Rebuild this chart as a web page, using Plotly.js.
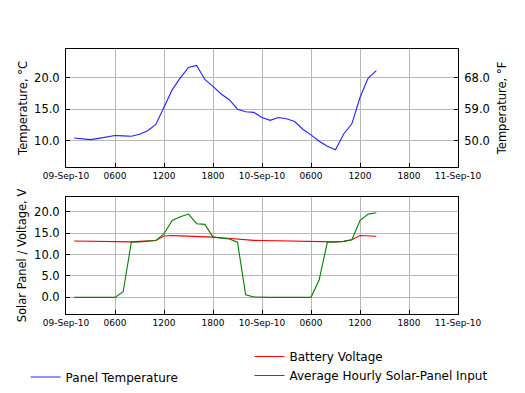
<!DOCTYPE html>
<html><head><meta charset="utf-8">
<script src="https://cdn.plot.ly/plotly-3.0.1.min.js"></script>
<style>html,body{margin:0;padding:0;background:#fff}#c{width:525px;height:393px}</style>
</head><body><div id="c"></div>
<script>
// hourly timestamps, 09-Sep-10 01:00 .. 10-Sep-10 14:00
const startHour = 1, nPoints = 38;
const times = [];
for (let i = 0; i < nPoints; i++) {
  const h = startHour + i;
  const d = new Date(Date.UTC(2010, 8, 9, h));
  times.push(d.toISOString().slice(0,19).replace('T',' '));
}
const panelTemp = [10.47,10.3,10.2,10.4,10.6,10.85,10.8,10.75,11.05,11.6,12.6,15.4,18.05,19.95,21.6,21.9,19.7,18.6,17.4,16.5,15.0,14.6,14.5,13.7,13.25,13.7,13.5,13.05,11.85,10.95,9.95,9.15,8.6,11.1,12.7,16.85,19.9,21.1];
const batteryVoltage = [13.2,13.15,13.1,13.1,13.05,13.05,13.0,13.0,13.1,13.2,13.3,14.35,14.5,14.4,14.35,14.35,14.3,14.1,13.95,13.8,13.55,13.4,13.35,13.3,13.25,13.25,13.2,13.2,13.15,13.1,13.05,13.0,13.0,13.1,13.5,14.5,14.4,14.3];
const solarInput = [0,0,0,0,0,0,1.3,12.9,13.0,13.2,13.3,14.9,18.0,18.9,19.5,17.25,17.1,14.1,13.9,13.65,12.9,0.6,0.1,0,0,0,0,0,0,0,4.1,12.9,13.0,13.1,13.5,18.0,19.5,19.8];
const tickTimes = ['2010-09-09 00:00','2010-09-09 06:00','2010-09-09 12:00','2010-09-09 18:00','2010-09-10 00:00','2010-09-10 06:00','2010-09-10 12:00','2010-09-10 18:00','2010-09-11 00:00'];
const tickLabels = ['09-Sep-10','0600','1200','1800','10-Sep-10','0600','1200','1800','11-Sep-10'];
const cTicks = [10,15,20];
const fTicks = [50,59,68];
const vTicks = [0,5,10,15,20];
const cRange = [5.9,24.5];
const vRange = [-3.9,23.5];
const toF = c => c*1.8+32;

const font = 'DejaVu Sans, sans-serif';
const xBase = {
  type:'date', range:[tickTimes[0], tickTimes[tickTimes.length-1]],
  tickmode:'array', tickvals:tickTimes, ticktext:tickLabels,
  tickfont:{family:font,size:9,color:'#000'},
  showgrid:true, gridcolor:'#b8b8b8', gridwidth:1,
  showline:true, linecolor:'#000', linewidth:1, mirror:true,
  ticks:'inside', ticklen:4, tickcolor:'#000', zeroline:false
};
const yBase = {
  tickfont:{family:font,size:11.5,color:'#000'},
  showgrid:true, gridcolor:'#b8b8b8', gridwidth:1,
  showline:true, linecolor:'#000', linewidth:1, mirror:true,
  ticks:'inside', ticklen:4, tickcolor:'#000', zeroline:false,
  tickformat:'.1f', ticklabelstandoff:3
};
const titleFont = {family:font,size:11.5,color:'#000'};

const data = [
  {x:times, y:panelTemp, xaxis:'x', yaxis:'y', mode:'lines', name:'Panel Temperature',
   line:{color:'#2222ff', width:1.1}, legend:'legend'},
  {x:times, y:panelTemp.map(toF), xaxis:'x', yaxis:'y3', mode:'lines', showlegend:false,
   line:{color:'rgba(0,0,0,0)', width:0}, hoverinfo:'skip'},
  {x:times, y:batteryVoltage, xaxis:'x2', yaxis:'y2', mode:'lines', name:'Battery Voltage',
   line:{color:'#ff0000', width:1.1}, legend:'legend2'},
  {x:times, y:solarInput, xaxis:'x2', yaxis:'y2', mode:'lines', name:'Average Hourly Solar-Panel Input',
   line:{color:'#008000', width:1.1}, legend:'legend2'}
];

const layout = {
  width:525, height:393, paper_bgcolor:'#fff', plot_bgcolor:'#fff',
  margin:{l:66, r:67, t:49, b:79, autoexpand:false},
  font:{family:font, color:'#000'},
  xaxis:Object.assign({}, xBase, {domain:[0,1], anchor:'y'}),
  xaxis2:Object.assign({}, xBase, {domain:[0,1], anchor:'y2'}),
  yaxis:Object.assign({}, yBase, {domain:[0.555,1], anchor:'x', range:cRange,
    tickvals:cTicks, title:{text:'Temperature, °C', font:titleFont, standoff:4}}),
  yaxis3:Object.assign({}, yBase, {overlaying:'y', side:'right', anchor:'x', range:cRange.map(toF),
    tickvals:fTicks, showgrid:false, title:{text:'Temperature, °F', font:titleFont, standoff:9}}),
  yaxis2:Object.assign({}, yBase, {domain:[0,0.4415], anchor:'x2', range:vRange,
    tickvals:vTicks, title:{text:'Solar Panel / Voltage, V', font:titleFont, standoff:5}}),
  legend:{x:-0.103, y:-0.2377, xanchor:'left', yanchor:'middle',
    bgcolor:'rgba(0,0,0,0)', font:{family:font,size:12}, itemwidth:30},
  legend2:{x:0.468, y:-0.196, xanchor:'left', yanchor:'middle',
    bgcolor:'rgba(0,0,0,0)', font:{family:font,size:12}, itemwidth:30, tracegroupgap:0},
  showlegend:true
};
Plotly.newPlot('c', data, layout, {displayModeBar:false, staticPlot:true});
</script></body></html>
